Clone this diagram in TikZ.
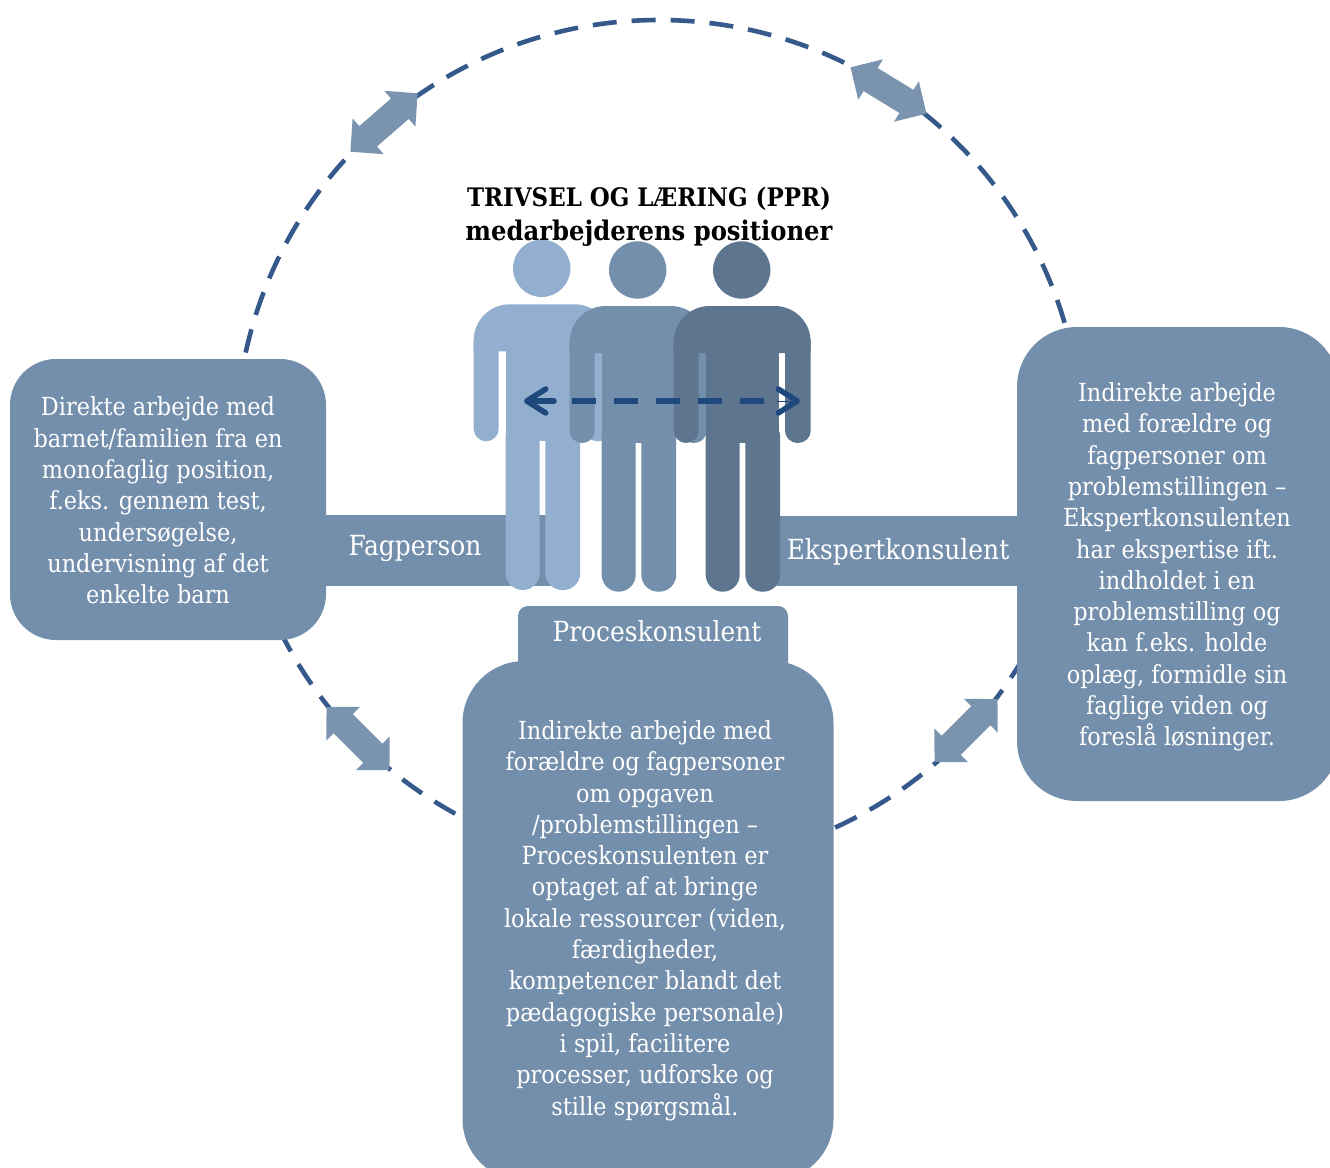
\documentclass[tikz,border=0pt]{standalone}
\usepackage{fontspec}
\setmainfont{DejaVu Serif Condensed}
\usetikzlibrary{arrows.meta}
\definecolor{boxblue}{HTML}{748FAC}
\definecolor{arrowblue}{HTML}{7A94B0}
\definecolor{lightp}{HTML}{93AFCF}
\definecolor{midp}{HTML}{748FAC}
\definecolor{darkp}{HTML}{5E7590}
\definecolor{ringblue}{HTML}{34598A}
\definecolor{innerblue}{HTML}{1F497D}
\tikzset{
  x=1pt,y=-1pt,
  boxtext/.style={text=white,align=center,font=\fontsize{24.9}{31.3}\selectfont,inner sep=0pt},
  labeltext/.style={text=white,font=\fontsize{27.7}{32}\selectfont,inner sep=0pt},
  panel/.style={fill=boxblue,draw=none,rectangle,inner sep=0pt,rounded corners=#1},
  bar/.style={fill=boxblue,draw=none,rectangle,inner sep=0pt},
  ringdash/.style={ringblue,line width=4.6pt,dash pattern=on 24pt off 15pt},
  pics/blockarrow/.style={code={
    \fill[arrowblue] (-44.5,0) -- (-21,23.7) -- (-21,13.5) -- (21,13.5) -- (21,23.7) -- (44.5,0)
      -- (21,-23.7) -- (21,-13.5) -- (-21,-13.5) -- (-21,-23.7) -- cycle;
  }},
  pics/person/.style={code={
    \path[pic actions] (0,0) circle[radius=28.7];
    \path[pic actions] (-68,83) [rounded corners=36pt] -- (-68,36) -- (69,36) [sharp corners] -- (69,83) -- cycle;
    \path[pic actions,rounded corners=12.5pt] (-68,60) rectangle (-43,173);
    \path[pic actions,rounded corners=12.5pt] (43.3,60) rectangle (69,173);
    \path[pic actions] (-36,60) rectangle (37.5,173);
    \path[pic actions,rounded corners=17pt] (-36,150) rectangle (-2,321.7);
    \path[pic actions,rounded corners=17pt] (3.6,150) rectangle (38.5,321.7);
  }},
  barb/.style={line width=5.5pt,color=innerblue,line cap=round,-{Straight Barb[length=19pt,width=24pt,line width=5.5pt,round]}},
}
\begin{document}
\begin{tikzpicture}
\clip (0,0) rectangle (1330,1167);
\fill[white] (0,0) rectangle (1330,1167);
% ring
\coordinate (ringc) at (659,443);
\draw[ringdash,dash phase=25.9pt] (ringc) ++(180:423) arc[start angle=180,end angle=350,radius=423];
\draw[ringdash] (ringc) ++(118.8:423) arc[start angle=118.8,end angle=156,radius=423];
\draw[ringdash] (ringc) ++(65.4:423) arc[start angle=65.4,end angle=25,radius=423];
% bars
\node[bar,minimum width=230pt,minimum height=71pt] (barl) at (441,550.5) {};
\node[bar,minimum width=250pt,minimum height=70pt] (barr) at (895,551) {};
% panels
\node[panel=10pt,minimum width=270pt,minimum height=70pt] (tab) at (653,641) {};
\node[panel=46pt,minimum width=316pt,minimum height=281pt] (leftbox) at (168,499.5) {};
\node[boxtext] (lefttext) at (158,500.5) {Direkte arbejde med\\barnet/familien fra en\\monofaglig position,\\f.eks. gennem test,\\undersøgelse,\\undervisning af det\\enkelte barn};
\node[panel=62pt,minimum width=371pt,minimum height=520pt,boxtext] (bottombox) at (648,921) {};
\node[boxtext] (bottomtext) at (645,920.5) {Indirekte arbejde med\\forældre og fagpersoner\\om opgaven\\/problemstillingen --\\Proceskonsulenten er\\optaget af at bringe\\lokale ressourcer (viden,\\færdigheder,\\kompetencer blandt det\\pædagogiske personale)\\i spil, facilitere\\processer, udforske og\\stille spørgsmål.};
\node[panel=60pt,minimum width=322pt,minimum height=474pt] (rightbox) at (1178,564) {};
\node[boxtext] (righttext) at (1177,567) {Indirekte arbejde\\med forældre og\\fagpersoner om\\problemstillingen --\\Ekspertkonsulenten\\har ekspertise ift.\\indholdet i en\\problemstilling og\\kan f.eks. holde\\oplæg, formidle sin\\faglige viden og\\foreslå løsninger.};
% bar labels
\node[labeltext] (fag) at (415,548) {Fagperson};
\node[labeltext] (eks) at (898,552) {Ekspertkonsulent};
\node[labeltext] (pro) at (657,631) {Proceskonsulent};
% block arrows
\pic[rotate=41] (a1) at (384,122.5) {blockarrow};
\pic[rotate=-31.4] (a2) at (888.5,90.5) {blockarrow};
\pic[rotate=-45] (a3) at (358,738.5) {blockarrow};
\pic[rotate=45] (a4) at (966,730.5) {blockarrow};
% people
\pic[fill=lightp] (p1) at (541.7,268.3) {person};
\pic[fill=midp] (p2) at (637.7,270) {person};
\pic[fill=darkp] (p3) at (741.7,270) {person};
% inner dashed arrow
\coordinate (la) at (554,401); \coordinate (lb) at (524,401);
\coordinate (ma) at (572,401); \coordinate (mb) at (764,401);
\coordinate (ra) at (777,401); \coordinate (rb) at (800,401);
\draw[innerblue,line width=5.5pt,dash pattern=on 24pt off 18pt] (ma) -- (mb);
\draw[barb] (la) -- (lb);
\draw[barb,-{Straight Barb[length=19pt,width=24pt,line width=5.5pt,round]},line width=0.1pt] (ra) -- (rb);
% title
\node[inner sep=0pt,align=center,text=black,font=\bfseries] (title) at (649,217) {{\fontsize{25.5}{34}\selectfont TRIVSEL OG LÆRING (PPR)}\\[9pt]{\fontsize{27}{34}\selectfont medarbejderens positioner}};
\end{tikzpicture}
\end{document}
